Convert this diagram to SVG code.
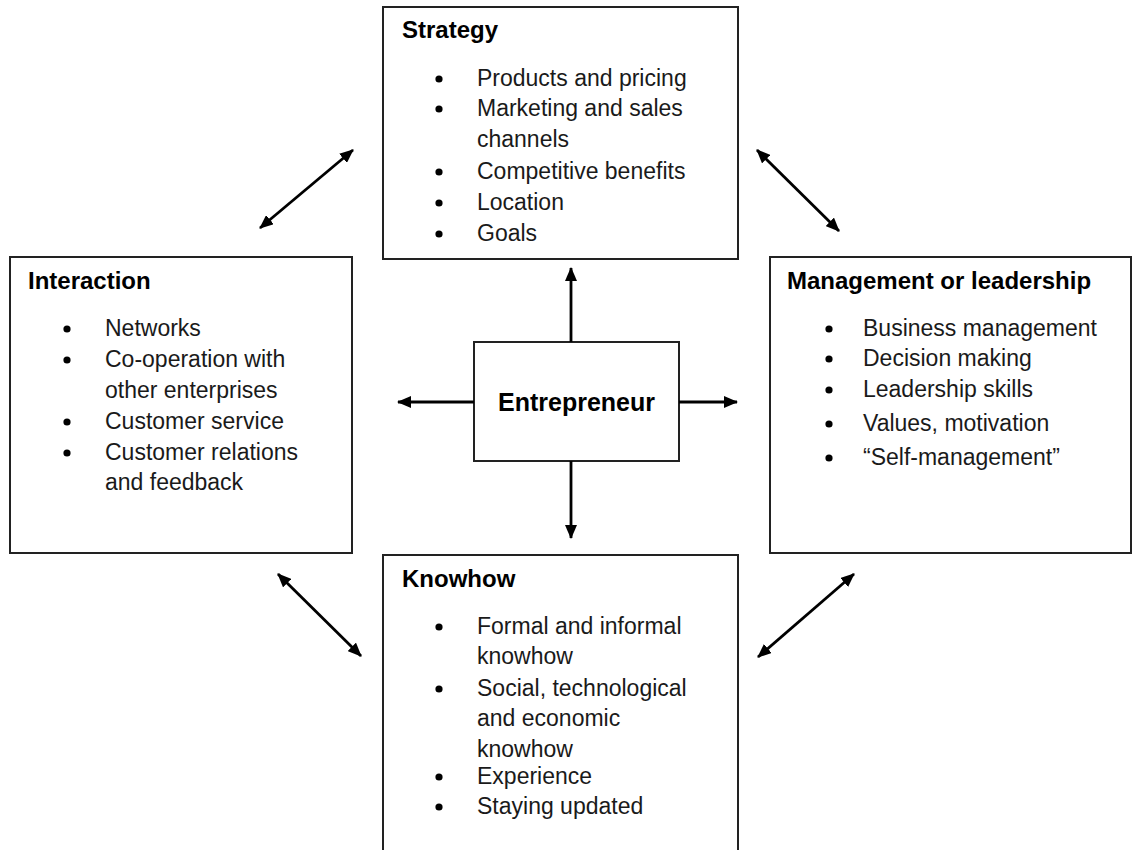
<svg xmlns="http://www.w3.org/2000/svg" width="1137" height="850" viewBox="0 0 1137 850">
<style>
.box{fill:#fff;stroke:#222;stroke-width:2}
.title{font-family:"Liberation Sans",Arial,sans-serif;font-weight:bold;font-size:24px;fill:#000}
.item{font-family:"Liberation Sans",Arial,sans-serif;font-size:23px;fill:#1a1a1a}
.bul{fill:#000}
.conn{stroke:#000;stroke-width:2.8;fill:none}
</style>
<defs>
<marker id="ah" viewBox="0 0 14 12" refX="13" refY="6" markerWidth="14" markerHeight="12" markerUnits="userSpaceOnUse" orient="auto-start-reverse">
<path d="M0,0 L14,6 L0,12 z" fill="#000"/>
</marker>
</defs>
<rect width="1137" height="850" fill="#fff"/>

<g id="strategy">
<rect class="box" x="383" y="7" width="355" height="252"/>
<text class="title" x="402" y="38">Strategy</text>
<circle class="bul" cx="439" cy="79" r="3.6"/>
<circle class="bul" cx="439" cy="109" r="3.6"/>
<circle class="bul" cx="439" cy="172" r="3.6"/>
<circle class="bul" cx="439" cy="203" r="3.6"/>
<circle class="bul" cx="439" cy="234" r="3.6"/>
<text class="item" x="477" y="86">Products and pricing</text>
<text class="item" x="477" y="116">Marketing and sales</text>
<text class="item" x="477" y="147">channels</text>
<text class="item" x="477" y="179">Competitive benefits</text>
<text class="item" x="477" y="210">Location</text>
<text class="item" x="477" y="241">Goals</text>
</g>

<g id="interaction">
<rect class="box" x="10" y="257" width="342" height="296"/>
<text class="title" x="28" y="289">Interaction</text>
<circle class="bul" cx="67" cy="329" r="3.6"/>
<circle class="bul" cx="67" cy="360" r="3.6"/>
<circle class="bul" cx="67" cy="422" r="3.6"/>
<circle class="bul" cx="67" cy="453" r="3.6"/>
<text class="item" x="105" y="336">Networks</text>
<text class="item" x="105" y="367">Co-operation with</text>
<text class="item" x="105" y="398">other enterprises</text>
<text class="item" x="105" y="429">Customer service</text>
<text class="item" x="105" y="460">Customer relations</text>
<text class="item" x="105" y="490">and feedback</text>
</g>

<g id="management">
<rect class="box" x="770" y="257" width="361" height="296"/>
<text class="title" x="787" y="289">Management or leadership</text>
<circle class="bul" cx="829" cy="329" r="3.6"/>
<circle class="bul" cx="829" cy="359" r="3.6"/>
<circle class="bul" cx="829" cy="390" r="3.6"/>
<circle class="bul" cx="829" cy="424" r="3.6"/>
<circle class="bul" cx="829" cy="458" r="3.6"/>
<text class="item" x="863" y="336">Business management</text>
<text class="item" x="863" y="366">Decision making</text>
<text class="item" x="863" y="397">Leadership skills</text>
<text class="item" x="863" y="431">Values, motivation</text>
<text class="item" x="863" y="465">“Self-management”</text>
</g>

<g id="knowhow">
<rect class="box" x="383" y="555" width="355" height="310"/>
<text class="title" x="402" y="587">Knowhow</text>
<circle class="bul" cx="439" cy="627" r="3.6"/>
<circle class="bul" cx="439" cy="689" r="3.6"/>
<circle class="bul" cx="439" cy="777" r="3.6"/>
<circle class="bul" cx="439" cy="807" r="3.6"/>
<text class="item" x="477" y="634">Formal and informal</text>
<text class="item" x="477" y="664">knowhow</text>
<text class="item" x="477" y="696">Social, technological</text>
<text class="item" x="477" y="726">and economic</text>
<text class="item" x="477" y="757">knowhow</text>
<text class="item" x="477" y="784">Experience</text>
<text class="item" x="477" y="814">Staying updated</text>
</g>

<g id="entrepreneur">
<rect class="box" x="474" y="342" width="205" height="119"/>
<text class="title" x="576.5" y="411" text-anchor="middle" style="font-size:25px">Entrepreneur</text>
</g>

<g id="connectors">
<line class="conn" x1="571" y1="342" x2="571" y2="268" marker-end="url(#ah)"/>
<line class="conn" x1="571" y1="461" x2="571" y2="538" marker-end="url(#ah)"/>
<line class="conn" x1="474" y1="402" x2="398" y2="402" marker-end="url(#ah)"/>
<line class="conn" x1="679" y1="402" x2="737" y2="402" marker-end="url(#ah)"/>
<line class="conn" x1="260" y1="228" x2="353" y2="150" marker-start="url(#ah)" marker-end="url(#ah)"/>
<line class="conn" x1="757" y1="150" x2="839" y2="231" marker-start="url(#ah)" marker-end="url(#ah)"/>
<line class="conn" x1="278" y1="574" x2="361" y2="656" marker-start="url(#ah)" marker-end="url(#ah)"/>
<line class="conn" x1="758" y1="657" x2="854" y2="574" marker-start="url(#ah)" marker-end="url(#ah)"/>
</g>
</svg>
